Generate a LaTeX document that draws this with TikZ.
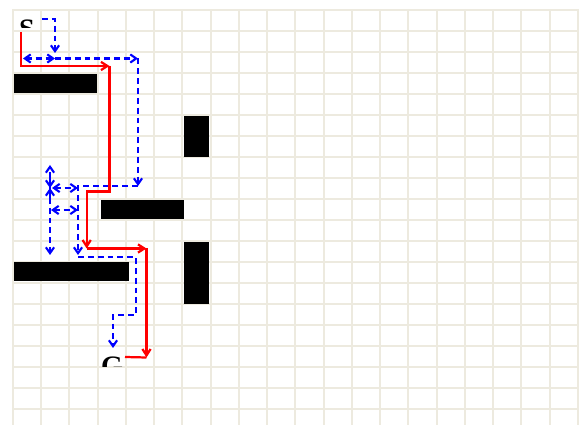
\documentclass[tikz,border=0pt]{standalone}
\usepackage{fontspec}
\newfontfamily\cellfont{Liberation Serif}
\usetikzlibrary{arrows.meta}
\definecolor{GridBeige}{RGB}{237,234,223}
\definecolor{PathRed}{RGB}{255,0,0}
\definecolor{SearchBlue}{RGB}{0,0,255}
\tikzset{
  gridline/.style={GridBeige, line width=1.7pt},
  pathline/.style={PathRed, line width=1.9pt, -{Straight Barb[length=5.5pt,width=7pt]}},
  searchline/.style={SearchBlue, line width=1.8pt, dash pattern=on 5pt off 3.4pt, -{Straight Barb[length=5pt,width=7pt]}},
  searchboth/.style={searchline, {Straight Barb[length=5pt,width=7pt]}-{Straight Barb[length=5pt,width=7pt]}},
  cellmark/.style={inner sep=0pt, anchor=base west, font=\cellfont\bfseries\fontsize{24}{24}\selectfont}
}

\begin{document}
\begin{tikzpicture}[x=0.03cm, y=-0.03cm]
    \useasboundingbox (0,0) rectangle (579,425);
    % Grid
    \foreach \i in {0,...,20}
        \draw[gridline] ({13+28.24*\i},9) -- ({13+28.24*\i},425);
    \foreach \j in {0,...,19}
        \draw[gridline] (12,{10+21*\j}) -- (579,{10+21*\j});

    % Obstacles
    \fill (14,74) rectangle (97,93);
    \fill (184,116) rectangle (209,157);
    \fill (100.5,200) rectangle (184,219);
    \fill (14,262) rectangle (129,281);
    \fill (184,242) rectangle (209,304);

    % Start and goal (partly hidden by the next row)
    \begin{scope}
        \clip (13,10) rectangle (41,27.5);
        \node[cellmark] (S) at (19,38.5) {S};
    \end{scope}
    \begin{scope}
        \clip (98,347) rectangle (126,366);
        \node[cellmark] (G) at (101,375.5) {G};
    \end{scope}

    % Waypoints
    \coordinate (r0) at (21,32);
    \coordinate (r1) at (109.5,66);
    \coordinate (r2) at (86.7,248.5);
    \coordinate (r3) at (146.5,248.5);
    \coordinate (r4) at (146.5,357.5);
    \coordinate (g0) at (125,357);
    \coordinate (b0) at (42,19);
    \coordinate (b1) at (55,53);
    \coordinate (b2) at (55,58.5);
    \coordinate (b3) at (23,58.5);
    \coordinate (b4) at (138,58.5);
    \coordinate (b5) at (138,186);
    \coordinate (b6) at (78,255);
    \coordinate (b7) at (50,188);
    \coordinate (b8) at (78,257);
    \coordinate (b9) at (113,348);

    % Search (dashed)
    \draw[searchline] (b0) -| (b1);
    \draw[searchboth] (b3) -- (b2);
    \draw[searchline] (b2) -- (b4);
    \draw[searchline] (b4) -- (b5);
    \draw[searchline] (b5) -| (b6);
    \draw[searchline] (b7) -- (50,165);
    \draw[searchline] (b7) -- (50,255);
    \draw[searchline] (50,198) -- (b7);
    \draw[searchline] (50,178) -- (b7);
    \draw[searchboth] (52,188) -- (78,188);
    \draw[searchboth] (51,210) -- (78,210);
    \draw[searchline] (b8) -| (136,315) -| (b9);

    % Path
    \draw[pathline] (r0) |- (r1);
    \draw[pathline] (r1) -- ++(0,125.5) -| (r2);
    \draw[pathline] (r2) -- (r3);
    \draw[pathline] (r3) -- (r4);
    \draw[PathRed, line width=1.9pt] (g0) -- (r4);
\end{tikzpicture}
\end{document}
